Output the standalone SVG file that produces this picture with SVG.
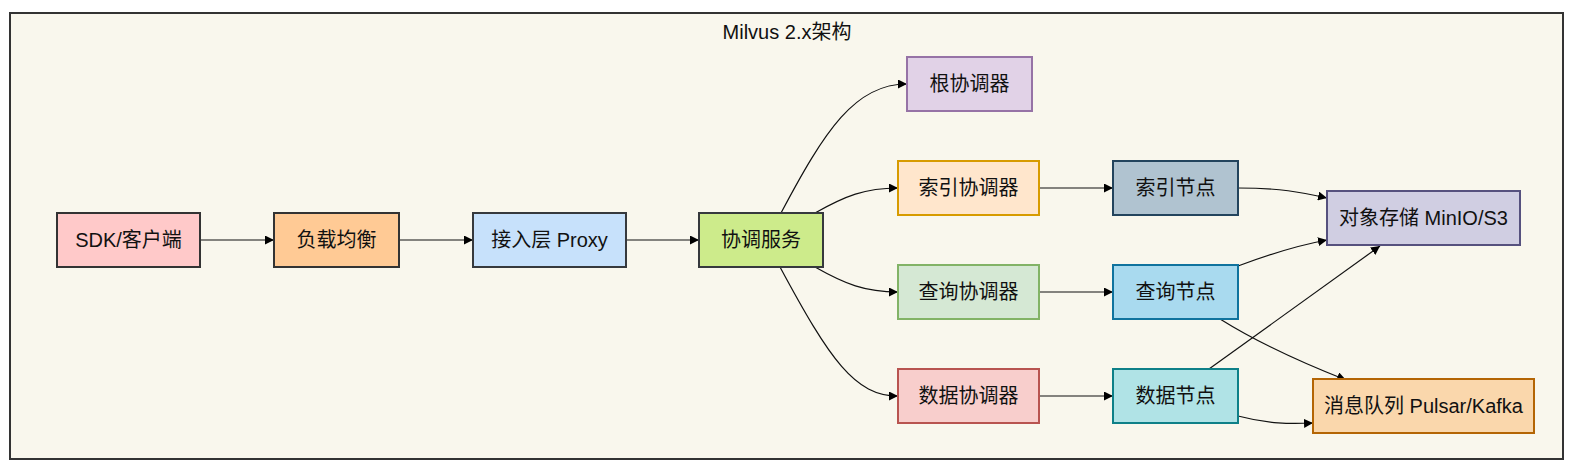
<svg xmlns="http://www.w3.org/2000/svg" width="1575" height="475" viewBox="0 0 1575 475">
<defs>
<marker id="arr" viewBox="0 0 10 10" refX="10" refY="5" markerWidth="9" markerHeight="9" markerUnits="userSpaceOnUse" orient="auto">
<path d="M0,0 L10,5 L0,10 Z" fill="#000"/>
</marker>
<style>
text{font-family:"Liberation Sans","Noto Sans CJK SC",Arial,sans-serif;font-size:20px;fill:#111;text-anchor:middle}
.n rect{stroke-width:2}
.e path{fill:none;stroke:#111;stroke-width:1.2;marker-end:url(#arr)}
</style>
</defs>
<rect width="1575" height="475" fill="#ffffff"/>
<g id="frame">
<rect x="10" y="13" width="1553" height="446" fill="#f9f7ed" stroke="#333" stroke-width="2"/>
<text x="787" y="39">Milvus 2.x架构</text>
</g>
<g class="e" id="connectors">
<path d="M200,240 L274,240"/>
<path d="M399,240 L473,240"/>
<path d="M626,240 L699,240"/>
<path d="M781,213 C825,130 855,84 907,84"/>
<path d="M815,213 C845,196 865,188 898,188"/>
<path d="M815,267 C845,284 865,292 898,292"/>
<path d="M780,267 C830,360 855,396 898,396"/>
<path d="M1039,188 L1113,188"/>
<path d="M1039,292 L1113,292"/>
<path d="M1039,396 L1113,396"/>
<path d="M1238,188 C1280,188 1300,192 1327,198"/>
<path d="M1238,266 C1270,254 1300,245 1327,240"/>
<path d="M1209,369 L1380,246"/>
<path d="M1220,319 C1260,344 1300,362 1346,380"/>
<path d="M1238,416 C1268,424 1290,424 1313,423"/>
</g>
<g class="n" id="sdk"><rect x="57" y="213" width="143" height="54" fill="#ffc9c9" stroke="#333"/><text x="128.5" y="247">SDK/客户端</text></g>
<g class="n" id="lb"><rect x="274" y="213" width="125" height="54" fill="#ffca95" stroke="#333"/><text x="336.5" y="247">负载均衡</text></g>
<g class="n" id="proxy"><rect x="473" y="213" width="153" height="54" fill="#c7e1fb" stroke="#36393d"/><text x="549.5" y="247">接入层 Proxy</text></g>
<g class="n" id="coord"><rect x="699" y="213" width="124" height="54" fill="#cdeb8b" stroke="#36393d"/><text x="761" y="247">协调服务</text></g>
<g class="n" id="rootcoord"><rect x="907" y="57" width="125" height="54" fill="#e1d2e7" stroke="#9673a6"/><text x="969.5" y="91">根协调器</text></g>
<g class="n" id="indexcoord"><rect x="898" y="161" width="141" height="54" fill="#ffe6cc" stroke="#d79b00"/><text x="968.5" y="195">索引协调器</text></g>
<g class="n" id="querycoord"><rect x="898" y="265" width="141" height="54" fill="#d5e8d4" stroke="#82b366"/><text x="968.5" y="299">查询协调器</text></g>
<g class="n" id="datacoord"><rect x="898" y="369" width="141" height="54" fill="#f8cecc" stroke="#b85450"/><text x="968.5" y="403">数据协调器</text></g>
<g class="n" id="indexnode"><rect x="1113" y="161" width="125" height="54" fill="#b0c3d0" stroke="#23445d"/><text x="1175.5" y="195">索引节点</text></g>
<g class="n" id="querynode"><rect x="1113" y="265" width="125" height="54" fill="#a9daef" stroke="#10739e"/><text x="1175.5" y="299">查询节点</text></g>
<g class="n" id="datanode"><rect x="1113" y="369" width="125" height="54" fill="#b0e3e6" stroke="#0e8088"/><text x="1175.5" y="403">数据节点</text></g>
<g class="n" id="storage"><rect x="1327" y="191" width="193" height="54" fill="#d0cee2" stroke="#56517e"/><text x="1423.5" y="225">对象存储 MinIO/S3</text></g>
<g class="n" id="mq"><rect x="1313" y="379" width="221" height="54" fill="#fad7ac" stroke="#b46504"/><text x="1423.5" y="413">消息队列 Pulsar/Kafka</text></g>
</svg>
